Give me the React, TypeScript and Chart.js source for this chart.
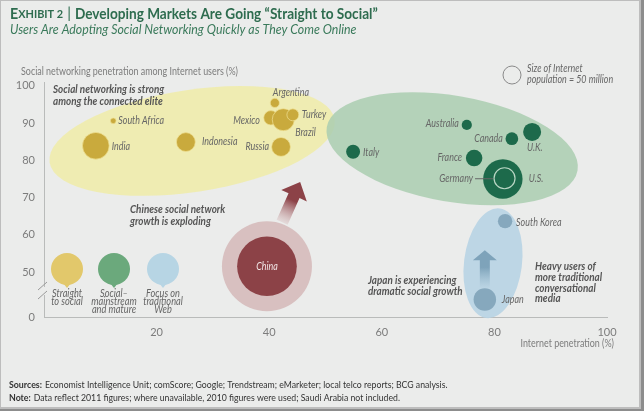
import React, { useEffect, useRef } from "react";
import { Chart, registerables } from "chart.js";
Chart.register(...registerables);

// ---------- DATA ----------
// Straight to social (developing markets)
const straightNames = ["South Africa", "India", "Indonesia", "Argentina", "Mexico", "Brazil", "Turkey", "Russia"];
const straightInternetPen = [12.3, 9.2, 25.2, 41.0, 40.3, 42.5, 44.2, 42.1];
const straightSocialPen = [90.6, 83.9, 84.9, 95.4, 91.4, 90.9, 92.2, 83.6];
const straightUsersM = [5, 110, 55, 13, 32, 75, 22, 55];

// Social – mainstream and mature
const matureNames = ["Italy", "Australia", "Canada", "U.K.", "France", "U.S."];
const matureInternetPen = [54.9, 75.1, 83.1, 86.7, 76.4, 81.5];
const matureSocialPen = [82.3, 89.5, 85.8, 87.6, 80.6, 75.0];
const matureUsersM = [30, 16, 25, 50, 42, 240];

const germanyInternetPen = 81.8;
const germanySocialPen = 75.2;
const germanyUsersM = 68;

// Focus on traditional Web
const webNames = ["South Korea", "Japan"];
const webInternetPen = [81.9, 78.3];
const webSocialPen = [63.7, 42.7];
const webUsersM = [32, 78];

// China
const chinaInternetPen = 39.6;
const chinaSocialPen = 51.6;
const chinaUsersM = 550;
const chinaPotentialM = 1250;

// Reference size
const referenceUsersM = 50;

// Axis ticks
const xTickValues = [20, 40, 60, 80, 100];
const xTickLabels = ["20", "40", "60", "80", "100"];
const yTickValues = [38, 50, 60, 70, 80, 90, 100];
const yTickLabels = ["0", "50", "60", "70", "80", "90", "100"];

// Group legend
const groupLabels = [["Straight", "to social"], ["Social–", "mainstream", "and mature"], ["Focus on", "traditional", "Web"]];

// ---------- STYLE ----------
const REF_R = 9; // px radius for 50 million
const radius = (m: number) => REF_R * Math.sqrt(m / referenceUsersM);
const BG = "#ebeceb";
const FONT = "Lato";
const YELLOW = "#c9aa3d";
const GREEN = "#1d6a4b";
const BLUE = "#86a8bd";
const CHINA = "#8c4247";
const TXT = "#555";
const LBL = "#666";
const NARROW = 0.85; // the reference uses a condensed face
const BOLDNARROW = 0.94;

type LabelCfg = { align: CanvasTextAlign; dx: number; dy: number };
const labelCfg: Record<string, LabelCfg> = {
  "South Africa": { align: "left", dx: 5, dy: 0 },
  India: { align: "left", dx: 16, dy: 1 },
  Indonesia: { align: "left", dx: 16, dy: 0 },
  Argentina: { align: "left", dx: -2, dy: -10 },
  Mexico: { align: "right", dx: -11, dy: 3 },
  Brazil: { align: "left", dx: 12, dy: 13 },
  Turkey: { align: "left", dx: 9, dy: 0 },
  Russia: { align: "right", dx: -12, dy: 0 },
  Italy: { align: "left", dx: 10, dy: 1 },
  Australia: { align: "right", dx: -8, dy: -1 },
  Canada: { align: "right", dx: -9, dy: 0 },
  "U.K.": { align: "left", dx: -5, dy: 16 },
  France: { align: "right", dx: -12, dy: 0 },
  "U.S.": { align: "left", dx: 26, dy: 0 },
  "South Korea": { align: "left", dx: 11, dy: 1 },
  Japan: { align: "left", dx: 17, dy: 0 },
};

const ellipses = [
  { cx: 26.3, cy: 85.2, rx: 25.6, ry: 13.7, rot: -8.6, color: "rgba(240,236,172,0.9)" },
  { cx: 72.5, cy: 83.1, rx: 22.6, ry: 14.2, rot: 9.8, color: "rgba(170,206,176,0.85)" },
  { cx: 79.75, cy: 52.4, rx: 5.15, ry: 14.8, rot: 7, color: "rgba(184,212,228,0.9)" },
];

const arrows = [
  { x0: 42.3, y0: 63.4, x1: 45.5, y1: 74.2, shaft: 12, head: 28, headLen: 15, c0: "rgba(214,185,186,0.35)", c1: "#8c4247" },
  { x0: 78.3, y0: 45.7, x1: 78.3, y1: 55.9, shaft: 10, head: 24, headLen: 10, c0: "rgba(150,185,205,0.05)", c1: "#7ea3ba" },
];

function drawArrow(ctx: CanvasRenderingContext2D, x0: number, y0: number, x1: number, y1: number, a: any) {
  const dx = x1 - x0, dy = y1 - y0;
  const len = Math.hypot(dx, dy);
  const ux = dx / len, uy = dy / len;
  const px = -uy, py = ux;
  const hx = x1 - ux * a.headLen, hy = y1 - uy * a.headLen;
  const s = a.shaft / 2, h = a.head / 2;
  ctx.beginPath();
  ctx.moveTo(x0 + px * s, y0 + py * s);
  ctx.lineTo(hx + px * s, hy + py * s);
  ctx.lineTo(hx + px * h, hy + py * h);
  ctx.lineTo(x1, y1);
  ctx.lineTo(hx - px * h, hy - py * h);
  ctx.lineTo(hx - px * s, hy - py * s);
  ctx.lineTo(x0 - px * s, y0 - py * s);
  ctx.closePath();
  const g = ctx.createLinearGradient(x0, y0, x1, y1);
  g.addColorStop(0, a.c0);
  g.addColorStop(0.55, a.c1);
  g.addColorStop(1, a.c1);
  ctx.fillStyle = g;
  ctx.fill();
}

function txt(ctx: CanvasRenderingContext2D, t: string, x: number, y: number, sx: number) {
  ctx.save();
  ctx.translate(x, y);
  ctx.scale(sx, 1);
  ctx.fillText(t, 0, 0);
  ctx.restore();
}

const decorPlugin = {
  id: "decor",
  beforeDraw(chart: any) {
    const ctx = chart.ctx as CanvasRenderingContext2D;
    const W = chart.width, H = chart.height;
    ctx.save();
    ctx.fillStyle = "#8d8d8d";
    ctx.fillRect(0, 0, W, H);
    ctx.fillStyle = "#bdbdbd";
    ctx.fillRect(0, 0, W - 3, H - 2);
    ctx.fillStyle = BG;
    ctx.fillRect(1, 1, W - 6, H - 5);
    ctx.restore();
  },
  beforeDatasetsDraw(chart: any) {
    const ctx = chart.ctx as CanvasRenderingContext2D;
    const xs = chart.scales.x, ys = chart.scales.y;
    const kx = xs.getPixelForValue(1) - xs.getPixelForValue(0);
    const ky = ys.getPixelForValue(0) - ys.getPixelForValue(1);
    ctx.save();
    for (const e of ellipses) {
      ctx.beginPath();
      ctx.ellipse(xs.getPixelForValue(e.cx), ys.getPixelForValue(e.cy), e.rx * kx, e.ry * ky, (e.rot * Math.PI) / 180, 0, Math.PI * 2);
      ctx.fillStyle = e.color;
      ctx.fill();
    }
    for (const a of arrows) {
      drawArrow(ctx, xs.getPixelForValue(a.x0), ys.getPixelForValue(a.y0), xs.getPixelForValue(a.x1), ys.getPixelForValue(a.y1), a);
    }
    ctx.restore();
  },
  afterDraw(chart: any) {
    const ctx = chart.ctx as CanvasRenderingContext2D;
    const xs = chart.scales.x, ys = chart.scales.y;
    const area = chart.chartArea;
    ctx.save();
    ctx.textBaseline = "middle";

    // Title
    const green = "#2e6c4f";
    ctx.fillStyle = green;
    ctx.textAlign = "left";
    const seg = (t: string, font: string, x: number, y: number, sx: number) => {
      ctx.font = font;
      txt(ctx, t, x, y, sx);
      return x + ctx.measureText(t).width * sx;
    };
    let x = seg("E", `700 15px ${FONT}`, 10, 14, 0.95);
    x = seg("XHIBIT 2", `700 11.5px ${FONT}`, x, 14.5, 0.95) + 4;
    x = seg("|", `400 15px ${FONT}`, x, 13.5, 1) + 4;
    seg("Developing Markets Are Going \u201CStraight to Social\u201D", `700 14.5px ${FONT}`, x, 14, 0.94);
    ctx.fillStyle = "#3a7a5b";
    seg("Users Are Adopting Social Networking Quickly as They Come Online", `italic 400 13.5px ${FONT}`, 10, 30, 0.915);

    // axis titles
    ctx.fillStyle = "#7c7c7c";
    ctx.font = `400 10.5px ${FONT}`;
    txt(ctx, "Social networking penetration among Internet users (%)", 21, 72, NARROW);
    ctx.textAlign = "right";
    txt(ctx, "Internet penetration (%)", 614, 344, NARROW);

    // axis break
    const by = 291;
    ctx.fillStyle = BG;
    ctx.fillRect(area.left - 2, by - 4, 4, 8);
    ctx.strokeStyle = "#9a9a9a";
    ctx.lineWidth = 1;
    ctx.beginPath();
    ctx.moveTo(area.left - 6, by - 1); ctx.lineTo(area.left + 3, by - 9);
    ctx.moveTo(area.left - 6, by + 8); ctx.lineTo(area.left + 3, by);
    ctx.stroke();

    // bubble labels
    ctx.font = `italic 400 10.5px ${FONT}`;
    ctx.fillStyle = LBL;
    const put = (names: string[], xv: number[], yv: number[]) => {
      names.forEach((n, i) => {
        const c = labelCfg[n];
        if (!c) return;
        ctx.textAlign = c.align;
        txt(ctx, n, xs.getPixelForValue(xv[i]) + c.dx, ys.getPixelForValue(yv[i]) + c.dy, NARROW);
      });
    };
    put(straightNames, straightInternetPen, straightSocialPen);
    put(matureNames, matureInternetPen, matureSocialPen);
    put(webNames, webInternetPen, webSocialPen);
    // Germany with leader line
    const gx = xs.getPixelForValue(germanyInternetPen), gy = ys.getPixelForValue(germanySocialPen);
    const gr = radius(germanyUsersM);
    ctx.textAlign = "right";
    ctx.fillStyle = LBL;
    txt(ctx, "Germany", gx - gr - 21, gy, NARROW);
    ctx.strokeStyle = "#666";
    ctx.beginPath();
    ctx.moveTo(gx - gr - 19, gy + 0.5);
    ctx.lineTo(gx - gr - 1, gy + 0.5);
    ctx.stroke();
    // China label
    ctx.textAlign = "center";
    ctx.fillStyle = "#f2e6e6";
    txt(ctx, "China", xs.getPixelForValue(chinaInternetPen), ys.getPixelForValue(chinaSocialPen), NARROW);

    // annotations
    ctx.fillStyle = TXT;
    ctx.textAlign = "left";
    ctx.font = `italic 700 10.5px ${FONT}`;
    const lines = (arr: string[], x0: number, y0: number, lh: number) => arr.forEach((t, i) => txt(ctx, t, x0, y0 + i * lh, BOLDNARROW));
    lines(["Social networking is strong", "among the connected elite"], 53, 90, 12);
    lines(["Chinese social network", "growth is exploding"], 130, 210, 11.5);
    lines(["Japan is experiencing", "dramatic social growth"], 368, 281, 11);
    lines(["Heavy users of", "more traditional", "conversational", "media"], 535, 267, 10.7);

    // size legend
    ctx.strokeStyle = "#8a8a8a";
    ctx.lineWidth = 1;
    ctx.beginPath();
    ctx.arc(512, 75, radius(referenceUsersM), 0, Math.PI * 2);
    ctx.stroke();
    ctx.fillStyle = LBL;
    ctx.font = `italic 400 10.5px ${FONT}`;
    txt(ctx, "Size of Internet", 527, 69, NARROW);
    txt(ctx, "population = 50 million", 527, 80, NARROW);

    // group legend pins
    const pinColors = ["#e2c86b", "#6ba97c", "#b7d5e4"];
    const pinX = [67, 114, 163];
    pinColors.forEach((c, i) => {
      const cx = pinX[i], cy = 269, r = 16;
      ctx.fillStyle = c;
      ctx.beginPath();
      ctx.arc(cx, cy, r, 0, Math.PI * 2);
      ctx.fill();
      ctx.beginPath();
      ctx.moveTo(cx - 4, cy + r - 2);
      ctx.lineTo(cx, cy + r + 3);
      ctx.lineTo(cx + 4, cy + r - 2);
      ctx.fill();
      ctx.fillStyle = LBL;
      ctx.textAlign = "center";
      ctx.font = `italic 400 11px ${FONT}`;
      groupLabels[i].forEach((t, j) => txt(ctx, t, cx, 293 + j * 8.4, 0.84));
    });

    // sources
    ctx.textAlign = "left";
    ctx.fillStyle = "#333";
    const src = (bold: string, rest: string, y: number) => {
      ctx.font = `700 10px ${FONT}`;
      txt(ctx, bold, 9, y, 0.88);
      const w = ctx.measureText(bold).width * 0.88;
      ctx.font = `400 10px ${FONT}`;
      txt(ctx, rest, 9 + w + 3, y, 0.87);
    };
    src("Sources:", "Economist Intelligence Unit; comScore; Google; Trendstream; eMarketer; local telco reports; BCG analysis.", 385);
    src("Note:", "Data reflect 2011 figures; where unavailable, 2010 figures were used; Saudi Arabia not included.", 398);
    ctx.restore();
  },
};

export default function App() {
  const ref = useRef<HTMLCanvasElement | null>(null);
  useEffect(() => {
    document.body.style.margin = "0";
    const canvas = ref.current!;
    const pts = (xv: number[], yv: number[], m: number[]) => xv.map((x, i) => ({ x, y: yv[i], r: radius(m[i]) }));
    const chart = new Chart(canvas, {
      type: "bubble",
      data: {
        datasets: [
          { label: "Germany", data: [{ x: germanyInternetPen, y: germanySocialPen, r: radius(germanyUsersM) }], backgroundColor: "rgba(0,0,0,0)", borderColor: "#b9d6c4", borderWidth: 1.2, order: 0 },
          { label: "Social – mainstream and mature", data: pts(matureInternetPen, matureSocialPen, matureUsersM), backgroundColor: GREEN, borderWidth: 0, order: 1 },
          { label: "Straight to social", data: pts(straightInternetPen, straightSocialPen, straightUsersM), backgroundColor: YELLOW, borderColor: "rgba(240,225,150,0.7)", borderWidth: 1, order: 1 },
          { label: "Focus on traditional Web", data: pts(webInternetPen, webSocialPen, webUsersM), backgroundColor: BLUE, borderWidth: 0, order: 1 },
          { label: "China", data: [{ x: chinaInternetPen, y: chinaSocialPen, r: radius(chinaUsersM) }], backgroundColor: CHINA, borderWidth: 0, order: 2 },
          { label: "China potential", data: [{ x: chinaInternetPen, y: chinaSocialPen, r: radius(chinaPotentialM) }], backgroundColor: "#d8c0c0", borderWidth: 0, order: 3 },
        ],
      },
      options: {
        responsive: false,
        animation: false,
        events: [],
        clip: false,
        layout: { autoPadding: false, padding: { top: 82, right: 37, bottom: 0, left: 0 } },
        plugins: { legend: { display: false }, tooltip: { enabled: false } },
        scales: {
          x: {
            type: "linear",
            min: 0,
            max: 100,
            grid: { display: false, drawTicks: false },
            border: { display: true, color: "#b9bbba", width: 1 },
            afterBuildTicks: (s: any) => { s.ticks = xTickValues.map((v) => ({ value: v })); },
            afterFit: (s: any) => { s.height = 94; },
            ticks: {
              padding: 9,
              color: "#7c7c7c",
              font: { family: FONT, size: 11 },
              callback: (v: any) => xTickLabels[xTickValues.indexOf(Number(v))],
            },
          },
          y: {
            type: "linear",
            min: 38,
            max: 101,
            grid: { display: false, drawTicks: false },
            border: { display: true, color: "#b9bbba", width: 1 },
            afterBuildTicks: (s: any) => { s.ticks = yTickValues.map((v) => ({ value: v })); },
            afterFit: (s: any) => { s.width = 44; },
            ticks: {
              padding: 9,
              color: "#7c7c7c",
              font: { family: FONT, size: 11 },
              callback: (v: any) => yTickLabels[yTickValues.indexOf(Number(v))],
            },
          },
        },
      } as any,
      plugins: [decorPlugin],
    });
    return () => chart.destroy();
  }, []);
  return (
    <div style={{ width: 644, height: 411 }}>
      <canvas ref={ref} width={644} height={411} style={{ display: "block" }} />
    </div>
  );
}
